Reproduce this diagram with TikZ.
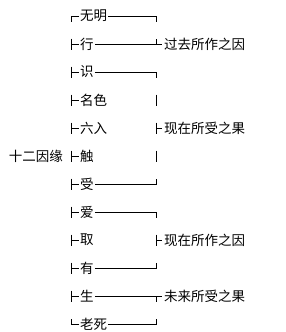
\documentclass[tikz,border=0pt]{standalone}
\usepackage{fontspec}
\setmainfont{Noto Sans CJK SC}
\usetikzlibrary{positioning}

\begin{document}
\begin{tikzpicture}[
  x=1pt, y=-1pt,
  font=\fontsize{13.5}{16}\selectfont,
  item/.style={anchor=west, inner sep=1pt},
  gloss/.style={anchor=west, inner sep=2pt},
  rule/.style={line width=0.8pt},
]
\useasboundingbox (0,0) rectangle (286,332);
\def\lx{71}   % left bracket column
\def\rx{156}  % right bracket column
\def\dy{28}   % row spacing
% ================= the twelve links =================
\foreach \n/\t [count=\i from 0] in {wuming/无明, xing/行, shi/识, mingse/名色,
    liuru/六入, chu/触, shou/受, ai/爱, qu/取, you/有, sheng/生, laosi/老死}
  \node[item] (\n) at (79,16+\dy*\i) {\t};
\node[anchor=east, inner sep=0pt] (title) at (63,156) {十二因缘};

% ================= left bracket =================
\draw[rule] (wuming.west) -- (\lx,16) -- ++(0,5.5);
\foreach \n [count=\i from 1] in {xing, shi, mingse, liuru, chu, shou, ai, qu, you, sheng}
  \draw[rule] (\lx,16+\dy*\i-5.5) -- ++(0,11) (\lx,16+\dy*\i) -- (\n.west);
\draw[rule] (laosi.west) -- (\lx,324) -- ++(0,-5.5);

% ================= right glosses =================
\node[gloss] (guoqu)    at (162,44)  {过去所作之因};
\node[gloss] (xianshou) at (162,128) {现在所受之果};
\node[gloss] (xianzuo)  at (162,240) {现在所作之因};
\node[gloss] (weilai)   at (162,296) {未来所受之果};

% ================= right brackets =================
\draw[rule] (wuming.east) -- (\rx,16) -- ++(0,5.5);
\draw[rule] (xing.east) -- (guoqu.west) (\rx,44) -- ++(0,-5.5);
\draw[rule] (shi.east) -- (\rx,72) -- ++(0,5.5);
\draw[rule] (\rx,100-5.5) -- ++(0,11);
\draw[rule] (\rx,128-5.5) -- ++(0,11) (\rx,128) -- (xianshou.west);
\draw[rule] (\rx,156-5.5) -- ++(0,11);
\draw[rule] (shou.east) -- (\rx,184) -- ++(0,-5.5);
\draw[rule] (ai.east) -- (\rx,212) -- ++(0,5.5);
\draw[rule] (\rx,240-5.5) -- ++(0,11) (\rx,240) -- (xianzuo.west);
\draw[rule] (you.east) -- (\rx,268) -- ++(0,-5.5);
\draw[rule] (sheng.east) -- (weilai.west) (\rx,296) -- ++(0,5.5);
\draw[rule] (laosi.east) -- (\rx,324) -- ++(0,-5.5);
\end{tikzpicture}
\end{document}
